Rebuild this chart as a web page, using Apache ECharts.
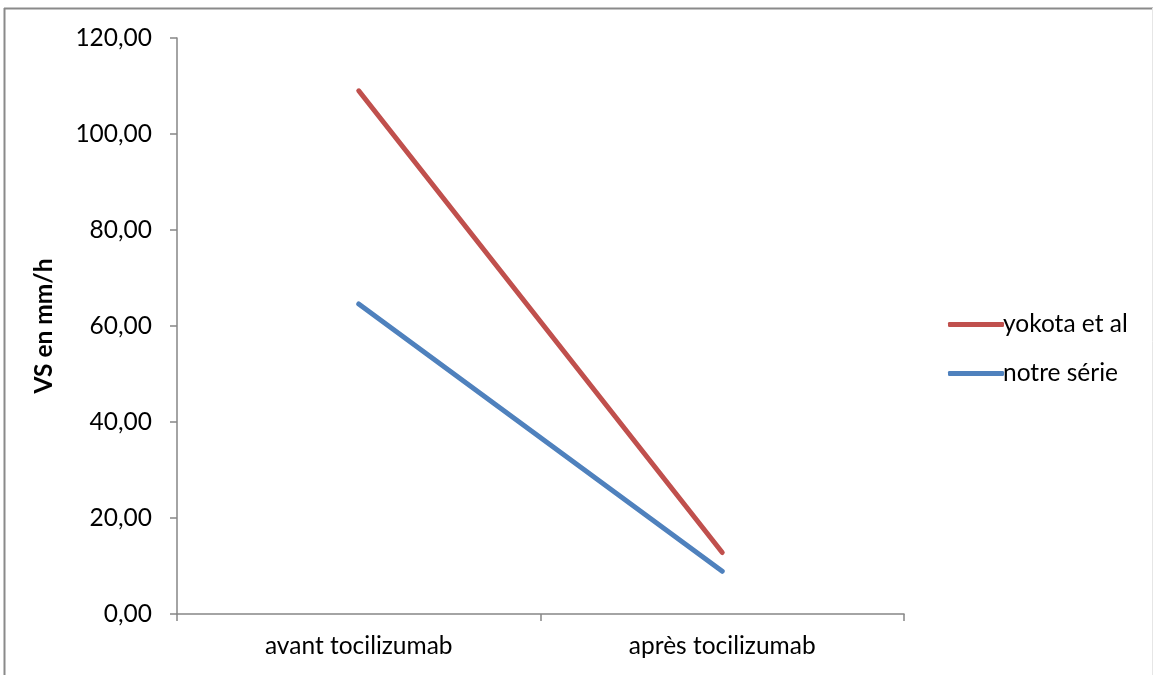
<!DOCTYPE html>
<html>
<head>
<meta charset="utf-8">
<title>VS en mm/h</title>
<script src="https://cdn.jsdelivr.net/npm/echarts@6/dist/echarts.min.js"></script>
<style>
  html, body { margin: 0; padding: 0; background: #ffffff; }
  #chart { width: 1156px; height: 675px; }
</style>
</head>
<body>
<div id="chart"></div>
<script>
// Categories along the x axis
const categories = ['avant tocilizumab', 'après tocilizumab'];
// ESR (mm/h) before and after treatment
const yokotaValues = [109.0, 12.8];
const notreSerieValues = [64.6, 8.9];
// Value-axis ticks
const yTicks = [0, 20, 40, 60, 80, 100, 120];

const FONT = 'Lato, "Open Sans", sans-serif';
const FONT_SIZE = 24.5;
const AXIS_GREY = '#868686';

const chart = echarts.init(document.getElementById('chart'), null, { renderer: 'canvas' });

chart.setOption({
  backgroundColor: '#ffffff',
  animation: false,
  textStyle: { fontFamily: FONT, color: '#000000' },
  graphic: [
    { type: 'line', shape: { x1: 4.5, y1: 8, x2: 4.5, y2: 675 }, style: { stroke: '#8a8a8a', lineWidth: 2 } },
    { type: 'line', shape: { x1: 4, y1: 8.5, x2: 1153, y2: 8.5 }, style: { stroke: '#8a8a8a', lineWidth: 2 } },
    { type: 'line', shape: { x1: 1152.5, y1: 8, x2: 1152.5, y2: 675 }, style: { stroke: '#e6e6e6', lineWidth: 1 } }
  ],
  grid: { left: 177, right: 252, top: 38, bottom: 61, containLabel: false },
  legend: {
    orient: 'vertical',
    left: 943,
    top: 305,
    itemWidth: 56,
    itemHeight: 5,
    itemGap: 20,
    icon: 'roundRect',
    textStyle: { fontFamily: FONT, fontSize: FONT_SIZE, color: '#000000', padding: [0, 0, 0, -6], lineHeight: 29 },
    data: ['yokota et al', 'notre série']
  },
  xAxis: {
    type: 'category',
    data: categories,
    boundaryGap: true,
    axisLine: { lineStyle: { color: AXIS_GREY, width: 1.5 } },
    axisTick: { show: true, length: 7, lineStyle: { color: AXIS_GREY, width: 1.5 } },
    axisLabel: { fontFamily: FONT, fontSize: FONT_SIZE, color: '#000000', margin: 20 }
  },
  yAxis: {
    type: 'value',
    min: yTicks[0],
    max: yTicks[yTicks.length - 1],
    interval: yTicks[1] - yTicks[0],
    name: 'VS en mm/h',
    nameLocation: 'middle',
    nameGap: 120,
    nameRotate: 90,
    nameTextStyle: { fontFamily: FONT, fontSize: FONT_SIZE, fontWeight: 'bold', color: '#000000' },
    axisLine: { show: true, lineStyle: { color: AXIS_GREY, width: 1.5 } },
    axisTick: { show: true, length: 7, lineStyle: { color: AXIS_GREY, width: 1.5 } },
    splitLine: { show: false },
    axisLabel: {
      fontFamily: FONT,
      fontSize: FONT_SIZE,
      color: '#000000',
      margin: 25,
      formatter: v => v.toFixed(2).replace('.', ',')
    }
  },
  series: [
    {
      name: 'yokota et al',
      type: 'line',
      data: yokotaValues,
      symbol: 'none',
      color: '#C0504D',
      lineStyle: { color: '#C0504D', width: 5, cap: 'round' }
    },
    {
      name: 'notre série',
      type: 'line',
      data: notreSerieValues,
      symbol: 'none',
      color: '#4F81BD',
      lineStyle: { color: '#4F81BD', width: 5, cap: 'round' }
    }
  ]
});
</script>
</body>
</html>
